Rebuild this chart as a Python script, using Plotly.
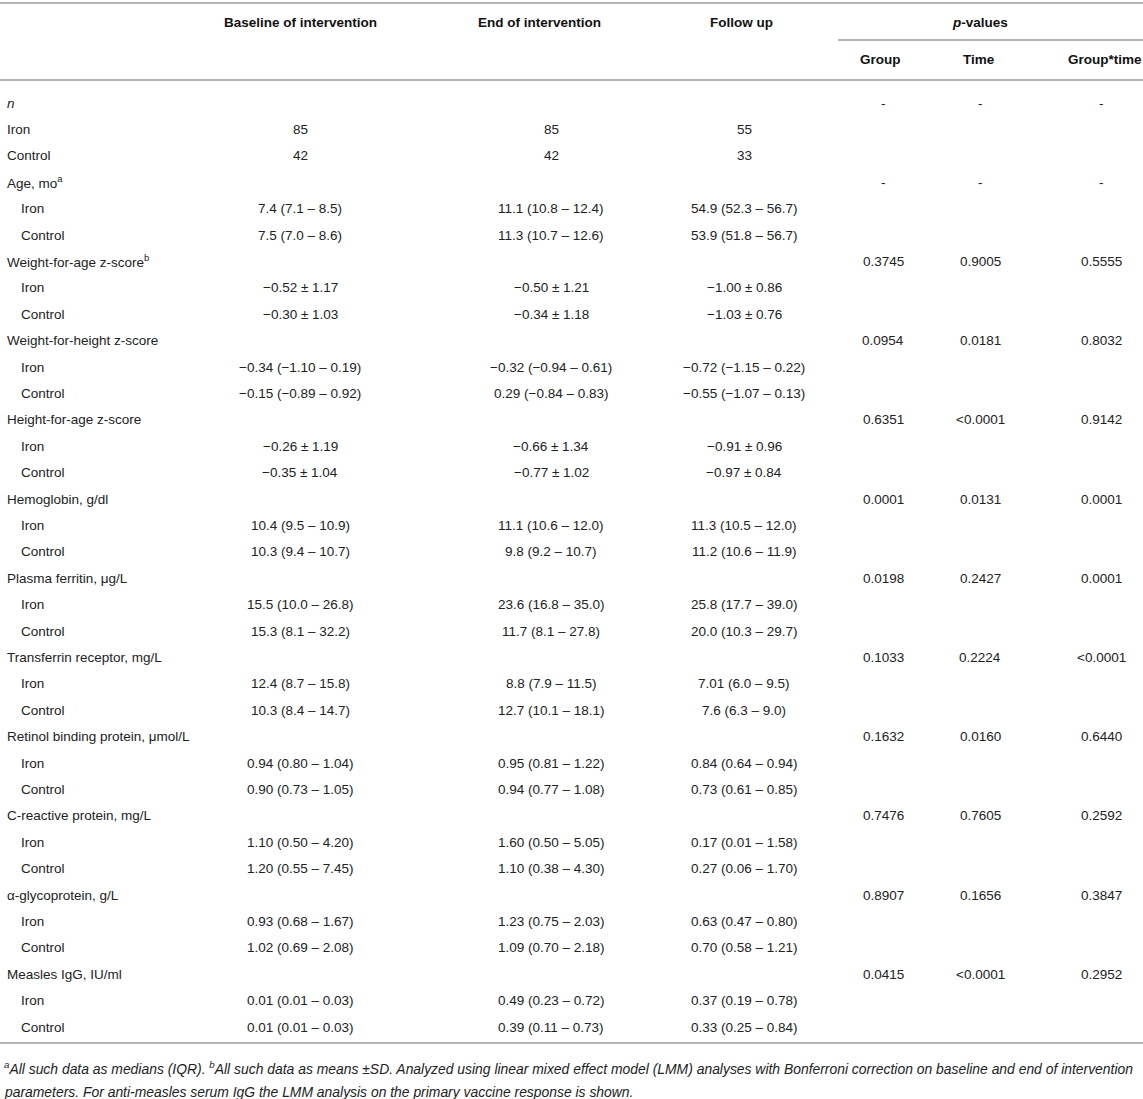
import plotly.graph_objects as go

# Datos de la tabla
secciones = [
    "<i>n</i>", "Age, mo<sup>a</sup>", "Weight-for-age z-score<sup>b</sup>",
    "Weight-for-height z-score", "Height-for-age z-score", "Hemoglobin, g/dl",
    "Plasma ferritin, \u03bcg/L", "Transferrin receptor, mg/L",
    "Retinol binding protein, \u03bcmol/L", "C-reactive protein, mg/L",
    "\u03b1-glycoprotein, g/L", "Measles IgG, IU/ml",
]
sangria = [False] + [True] * 11

hierro_base = ["85", "7.4 (7.1 \u2013 8.5)", "\u22120.52 \u00b1 1.17", "\u22120.34 (\u22121.10 \u2013 0.19)",
               "\u22120.26 \u00b1 1.19", "10.4 (9.5 \u2013 10.9)", "15.5 (10.0 \u2013 26.8)",
               "12.4 (8.7 \u2013 15.8)", "0.94 (0.80 \u2013 1.04)", "1.10 (0.50 \u2013 4.20)",
               "0.93 (0.68 \u2013 1.67)", "0.01 (0.01 \u2013 0.03)"]
hierro_fin = ["85", "11.1 (10.8 \u2013 12.4)", "\u22120.50 \u00b1 1.21", "\u22120.32 (\u22120.94 \u2013 0.61)",
              "\u22120.66 \u00b1 1.34", "11.1 (10.6 \u2013 12.0)", "23.6 (16.8 \u2013 35.0)",
              "8.8 (7.9 \u2013 11.5)", "0.95 (0.81 \u2013 1.22)", "1.60 (0.50 \u2013 5.05)",
              "1.23 (0.75 \u2013 2.03)", "0.49 (0.23 \u2013 0.72)"]
hierro_seg = ["55", "54.9 (52.3 \u2013 56.7)", "\u22121.00 \u00b1 0.86", "\u22120.72 (\u22121.15 \u2013 0.22)",
              "\u22120.91 \u00b1 0.96", "11.3 (10.5 \u2013 12.0)", "25.8 (17.7 \u2013 39.0)",
              "7.01 (6.0 \u2013 9.5)", "0.84 (0.64 \u2013 0.94)", "0.17 (0.01 \u2013 1.58)",
              "0.63 (0.47 \u2013 0.80)", "0.37 (0.19 \u2013 0.78)"]
control_base = ["42", "7.5 (7.0 \u2013 8.6)", "\u22120.30 \u00b1 1.03", "\u22120.15 (\u22120.89 \u2013 0.92)",
                "\u22120.35 \u00b1 1.04", "10.3 (9.4 \u2013 10.7)", "15.3 (8.1 \u2013 32.2)",
                "10.3 (8.4 \u2013 14.7)", "0.90 (0.73 \u2013 1.05)", "1.20 (0.55 \u2013 7.45)",
                "1.02 (0.69 \u2013 2.08)", "0.01 (0.01 \u2013 0.03)"]
control_fin = ["42", "11.3 (10.7 \u2013 12.6)", "\u22120.34 \u00b1 1.18", "0.29 (\u22120.84 \u2013 0.83)",
               "\u22120.77 \u00b1 1.02", "9.8 (9.2 \u2013 10.7)", "11.7 (8.1 \u2013 27.8)",
               "12.7 (10.1 \u2013 18.1)", "0.94 (0.77 \u2013 1.08)", "1.10 (0.38 \u2013 4.30)",
               "1.09 (0.70 \u2013 2.18)", "0.39 (0.11 \u2013 0.73)"]
control_seg = ["33", "53.9 (51.8 \u2013 56.7)", "\u22121.03 \u00b1 0.76", "\u22120.55 (\u22121.07 \u2013 0.13)",
               "\u22120.97 \u00b1 0.84", "11.2 (10.6 \u2013 11.9)", "20.0 (10.3 \u2013 29.7)",
               "7.6 (6.3 \u2013 9.0)", "0.73 (0.61 \u2013 0.85)", "0.27 (0.06 \u2013 1.70)",
               "0.70 (0.58 \u2013 1.21)", "0.33 (0.25 \u2013 0.84)"]

p_grupo = ["-", "-", "0.3745", "0.0954", "0.6351", "0.0001", "0.0198", "0.1033",
           "0.1632", "0.7476", "0.8907", "0.0415"]
p_tiempo = ["-", "-", "0.9005", "0.0181", "<0.0001", "0.0131", "0.2427", "0.2224",
            "0.0160", "0.7605", "0.1656", "<0.0001"]
p_interaccion = ["-", "-", "0.5555", "0.8032", "0.9142", "0.0001", "0.0001", "<0.0001",
                 "0.6440", "0.2592", "0.3847", "0.2952"]

encabezados = ["Baseline of intervention", "End of intervention", "Follow up"]
sub_encabezados = ["Group", "Time", "Group*time"]

nota = [
    "<i><sup>a</sup>All such data as medians (IQR). <sup>b</sup>All such data as means \u00b1SD. "
    "Analyzed using linear mixed effect model (LMM) analyses with Bonferroni correction on baseline "
    "and end of intervention</i>",
    "<i>parameters. For anti-measles serum IgG the LMM analysis on the primary "
    "vaccine response is shown.</i>",
]

# Geometría
ANCHO, ALTO = 1143, 1099
y_inicio, paso = 103, 26.4
x_cols = [300, 551, 744]
x_p = [883, 980, 1101]
x_enc = [300, 539, 741]
x_sub = [880, 979, 1105]
fuente = "Liberation Sans, Arial, sans-serif"
tam = 13.5
gris_linea = "#b4b4b4"
color_texto = "#222222"

fig = go.Figure()
anot = []


def texto(x, y, t, anchor="center", size=tam, color=color_texto):
    anot.append(dict(x=x, y=y, text=t, showarrow=False, xanchor=anchor, yanchor="middle",
                     font=dict(family=fuente, size=size, color=color)))


# Encabezados
for xe, t in zip(x_enc, encabezados):
    texto(xe, 22, "<b>" + t + "</b>", color="#111111")
texto(980, 22, "<b><i>p</i>-values</b>", color="#111111")
for xs, t in zip(x_sub, sub_encabezados):
    texto(xs, 59, "<b>" + t + "</b>", color="#111111")

# Filas
fila = 0
for i, sec in enumerate(secciones):
    y = y_inicio + fila * paso
    texto(5, y, sec, anchor="left")
    for xp, v in zip(x_p, [p_grupo[i], p_tiempo[i], p_interaccion[i]]):
        texto(xp, y, v.replace("<", "&lt;"))
    x_sub_et = 19 if sangria[i] else 5
    for j, (grupo, vals) in enumerate([("Iron", [hierro_base[i], hierro_fin[i], hierro_seg[i]]),
                                         ("Control", [control_base[i], control_fin[i], control_seg[i]])]):
        yy = y_inicio + (fila + 1 + j) * paso
        texto(x_sub_et, yy, grupo, anchor="left")
        for xc, v in zip(x_cols, vals):
            texto(xc, yy, v)
    fila += 3

# Nota al pie
for k, linea in enumerate(nota):
    texto(2, 1068 + 24 * k, linea, anchor="left", size=13.9)

# Líneas horizontales
lineas = [(0, ANCHO, 3), (0, ANCHO, 80), (838, ANCHO, 40), (0, ANCHO, 1043)]
formas = [dict(type="line", x0=a, x1=b, y0=y, y1=y, xref="x", yref="y",
               line=dict(color=gris_linea, width=2)) for a, b, y in lineas]

fig.update_layout(
    width=ANCHO, height=ALTO,
    margin=dict(l=0, r=0, t=0, b=0),
    paper_bgcolor="white", plot_bgcolor="white",
    xaxis=dict(range=[0, ANCHO], visible=False, fixedrange=True),
    yaxis=dict(range=[ALTO, 0], visible=False, fixedrange=True),
    annotations=anot, shapes=formas, showlegend=False,
)

fig.write_html("out.html", config={"displayModeBar": False},
               post_script="document.body.style.margin='0';")
